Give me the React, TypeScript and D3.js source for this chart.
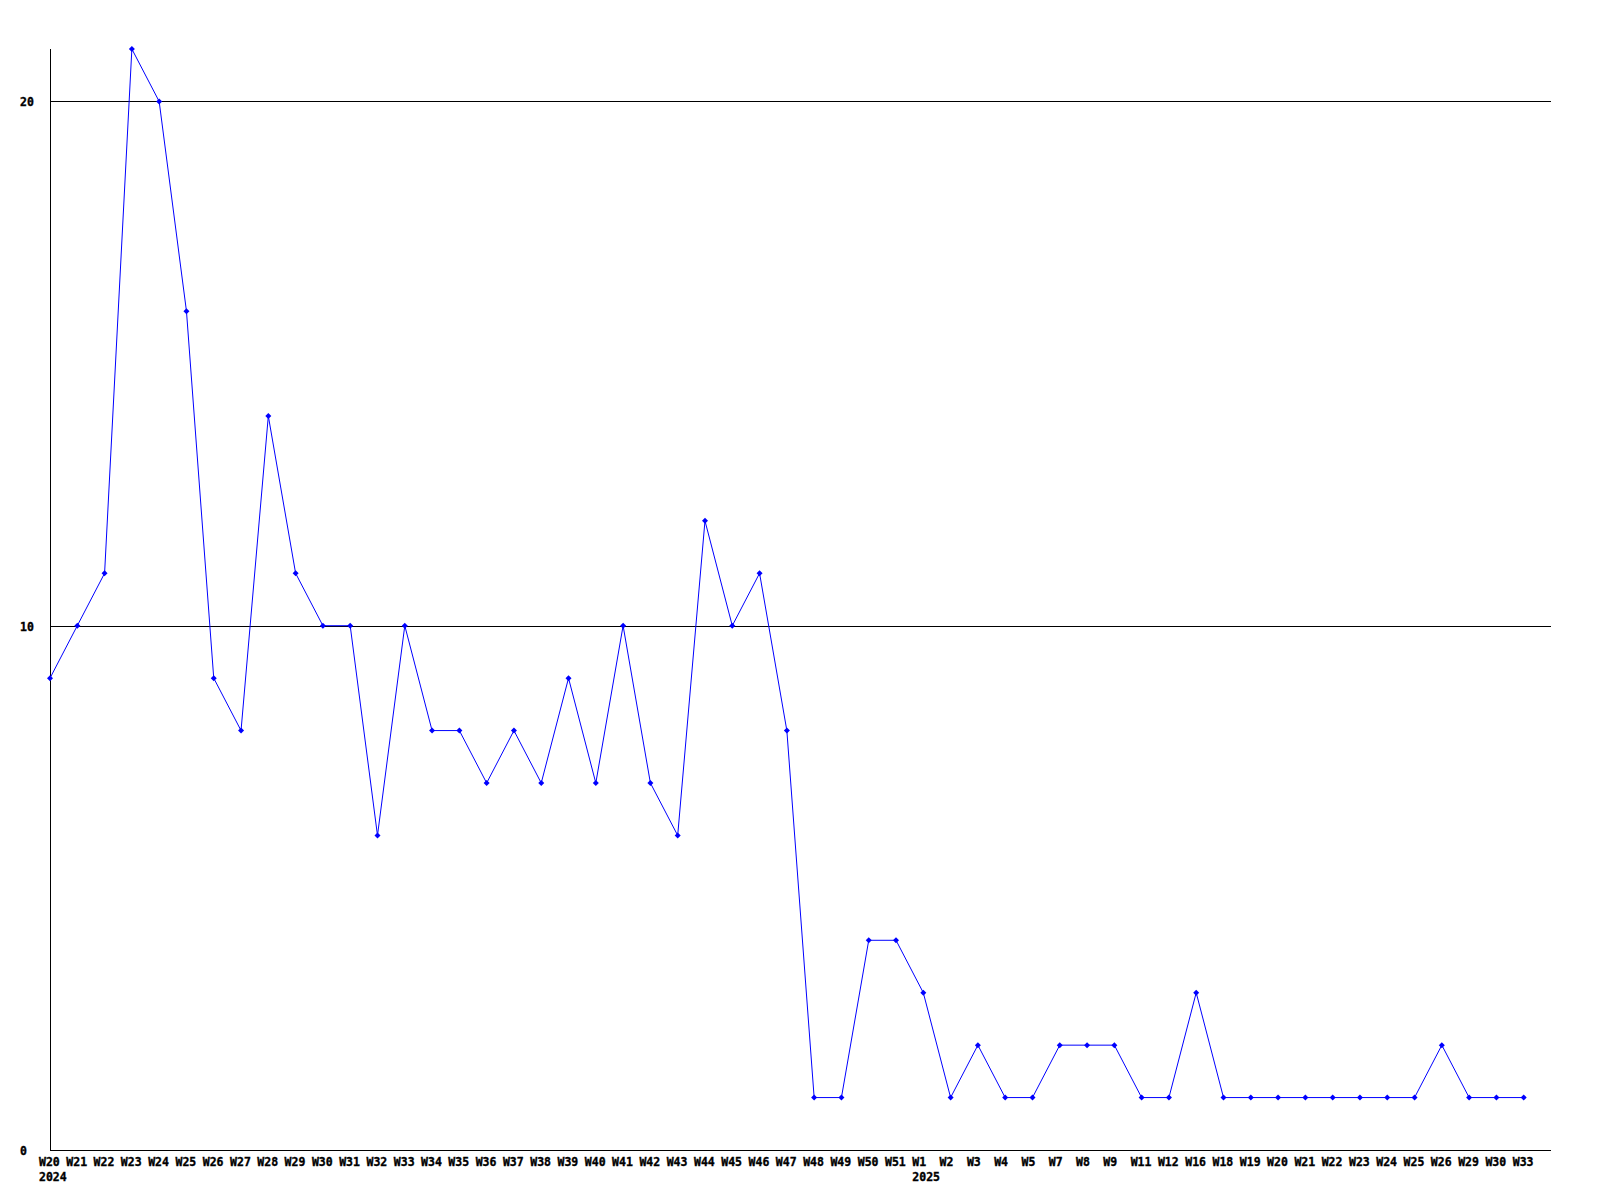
import React from "react";
import * as d3 from "d3";

const weeks = [
  "W20","W21","W22","W23","W24","W25","W26","W27","W28","W29","W30","W31","W32","W33","W34","W35","W36","W37","W38","W39","W40","W41","W42","W43","W44","W45","W46","W47","W48","W49","W50","W51",
  "W1","W2","W3","W4","W5","W7","W8","W9","W11","W12","W16","W18","W19","W20","W21","W22","W23","W24","W25","W26","W29","W30","W33",
];
const values = [
  9,10,11,21,20,16,9,8,14,11,10,10,6,10,8,8,7,8,7,9,7,10,7,6,12,10,11,8,1,1,4,4,
  3,1,2,1,1,2,2,2,1,1,3,1,1,1,1,1,1,1,1,2,1,1,1,
];
const yearLabels = [
  { index: 0, label: "2024" },
  { index: 32, label: "2025" },
];
const yTicks = [0, 10, 20];

const W = 1600, H = 1200;
const left = 50, right = 1551, top = 49, bottom = 1150;

export default function App() {
  const x = d3.scaleLinear().domain([0, weeks.length]).range([left, right]);
  const y = d3.scaleLinear().domain([0, 21]).range([bottom, top]);
  const line = d3.line<number>().x((_, i) => x(i)).y((d) => y(d));
  const font = "'DejaVu Sans Mono', monospace";
  const textProps = { fontFamily: font, fontWeight: "bold" as const, fontSize: 11.5, fill: "#000", stroke: "#000", strokeWidth: 0.35 };
  return (
    <svg width={W} height={H} style={{ position: "absolute", left: 0, top: 0, background: "#fff" }}>
      <rect x={0} y={0} width={W} height={H} fill="#fff" />
      {yTicks.filter((t) => t > 0).map((t) => (
        <line key={t} x1={left} x2={right} y1={Math.round(y(t)) + 0.5} y2={Math.round(y(t)) + 0.5} stroke="#000" shapeRendering="crispEdges" />
      ))}
      <line x1={left + 0.5} x2={left + 0.5} y1={top} y2={bottom} stroke="#000" shapeRendering="crispEdges" />
      <line x1={left} x2={right} y1={bottom + 0.5} y2={bottom + 0.5} stroke="#000" shapeRendering="crispEdges" />
      {yTicks.map((t) => (
        <text key={t} x={20} y={Math.round(y(t)) + 5} {...textProps}>{t}</text>
      ))}
      <path d={line(values) || ""} fill="none" stroke="#0000ff" strokeWidth={1} />
      {values.map((v, i) => {
        const cx = x(i), cy = y(v);
        return (
          <path key={i} d={`M${cx},${cy - 3}L${cx + 3},${cy}L${cx},${cy + 3}L${cx - 3},${cy}Z`} fill="#0000ff" />
        );
      })}
      {weeks.map((w, i) => (
        <text key={i} x={x(i) - 11} y={1166} {...textProps}>{w}</text>
      ))}
      {yearLabels.map((yl) => (
        <text key={yl.label} x={x(yl.index) - 11} y={1181} {...textProps}>{yl.label}</text>
      ))}
    </svg>
  );
}
